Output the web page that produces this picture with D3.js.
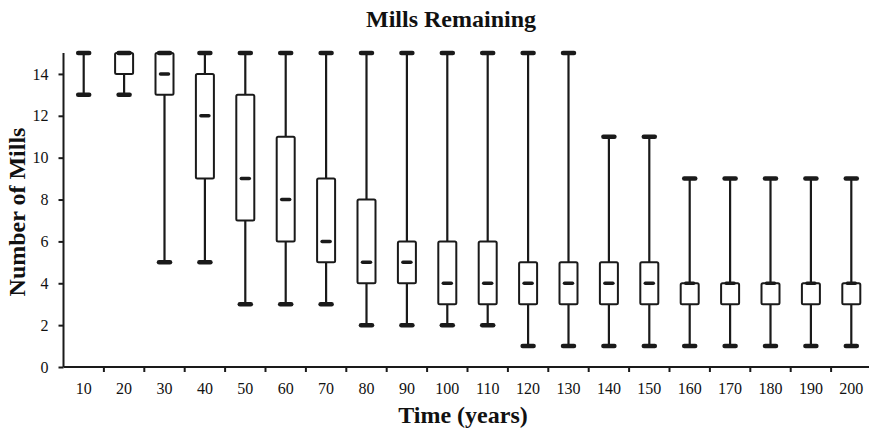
<!DOCTYPE html>
<html>
<head>
<meta charset="utf-8">
<script src="https://cdn.jsdelivr.net/npm/d3@7"></script>
<style>
  html, body { margin: 0; padding: 0; background: #fff; }
  svg { display: block; }
  text { font-family: "Liberation Serif", "Times New Roman", serif; fill: #111; }
</style>
</head>
<body>
<svg id="chart" width="869" height="431"></svg>
<script>
// Simulation output: distribution of mills remaining at each time step
const times   = [10, 20, 30, 40, 50, 60, 70, 80, 90, 100, 110, 120, 130, 140, 150, 160, 170, 180, 190, 200];
const minVals = [13, 13, 5, 5, 3, 3, 3, 2, 2, 2, 2, 1, 1, 1, 1, 1, 1, 1, 1, 1];
const q1Vals  = [15, 14, 13, 9, 7, 6, 5, 4, 4, 3, 3, 3, 3, 3, 3, 3, 3, 3, 3, 3];
const medVals = [15, 15, 14, 12, 9, 8, 6, 5, 5, 4, 4, 4, 4, 4, 4, 4, 4, 4, 4, 4];
const q3Vals  = [15, 15, 15, 14, 13, 11, 9, 8, 6, 6, 6, 5, 5, 5, 5, 4, 4, 4, 4, 4];
const maxVals = [15, 15, 15, 15, 15, 15, 15, 15, 15, 15, 15, 15, 15, 11, 11, 9, 9, 9, 9, 9];
const yTicks  = [0, 2, 4, 6, 8, 10, 12, 14];

const data = times.map((t, i) => ({
  t, min: minVals[i], q1: q1Vals[i], med: medVals[i], q3: q3Vals[i], max: maxVals[i]
}));

const svg = d3.select("#chart");
const plotLeft = 63.5, plotRight = 871.5, plotTop = 53, plotBottom = 367;
const ink = "#1a1a1a";

const x = d3.scaleBand().domain(times).range([plotLeft, plotRight]);
const y = d3.scaleLinear().domain([0, 15]).range([plotBottom, plotTop]);

// Title
svg.append("text")
  .attr("x", 451).attr("y", 27)
  .attr("text-anchor", "middle")
  .style("font-size", "24px").style("font-weight", "bold")
  .text("Mills Remaining");

// Y axis
const yAxis = svg.append("g")
  .attr("transform", `translate(${plotLeft},0)`)
  .call(d3.axisLeft(y).tickValues(yTicks).tickSize(5).tickPadding(10).tickFormat(d3.format("d")));
yAxis.select(".domain").attr("stroke", ink).attr("stroke-width", 2)
  .attr("d", `M0,${plotBottom}V${plotTop}`);
yAxis.selectAll(".tick line").attr("stroke", ink).attr("stroke-width", 2);
yAxis.selectAll(".tick text").style("font-size", "16px")
  .style("font-family", "'Liberation Serif', serif").attr("fill", ink);

// X axis with ticks at category boundaries
const xAxis = svg.append("g")
  .attr("transform", `translate(0,${plotBottom})`)
  .call(d3.axisBottom(x).tickSize(0).tickPadding(16));
xAxis.select(".domain").attr("stroke", ink).attr("stroke-width", 2)
  .attr("d", `M${plotLeft},0H869`);
xAxis.selectAll(".tick text").style("font-size", "16px")
  .style("font-family", "'Liberation Serif', serif").attr("fill", ink);
xAxis.selectAll("line.sep")
  .data(times.slice(1))
  .join("line")
  .attr("class", "sep")
  .attr("x1", d => x(d)).attr("x2", d => x(d))
  .attr("y1", 0).attr("y2", 5)
  .attr("stroke", ink).attr("stroke-width", 2);

// Axis titles
svg.append("text")
  .attr("x", 463).attr("y", 423)
  .attr("text-anchor", "middle")
  .style("font-size", "24px").style("font-weight", "bold")
  .text("Time (years)");

svg.append("text")
  .attr("transform", `translate(25,${(plotTop + plotBottom) / 2 + 2}) rotate(-90)`)
  .attr("text-anchor", "middle")
  .style("font-size", "24px").style("font-weight", "bold")
  .text("Number of Mills");

// Box plots
const bw = 18, capW = 13, medW = 10;
const g = svg.append("g").selectAll("g.box").data(data).join("g")
  .attr("class", "box")
  .attr("transform", d => `translate(${x(d.t) + x.bandwidth() / 2},0)`);

g.append("line")
  .attr("x1", 0).attr("x2", 0)
  .attr("y1", d => y(d.min)).attr("y2", d => y(d.max))
  .attr("stroke", ink).attr("stroke-width", 2.2);

g.filter(d => d.q3 > d.q1).append("rect")
  .attr("x", -bw / 2).attr("width", bw)
  .attr("y", d => y(d.q3)).attr("height", d => y(d.q1) - y(d.q3))
  .attr("rx", 1.5)
  .attr("fill", "#fff").attr("stroke", ink).attr("stroke-width", 2);

// Whisker caps
g.selectAll("line.cap")
  .data(d => [d.min, d.max])
  .join("line")
  .attr("class", "cap")
  .attr("x1", -capW / 2 + 1).attr("x2", capW / 2 - 1)
  .attr("y1", v => y(v)).attr("y2", v => y(v))
  .attr("stroke", ink).attr("stroke-width", 4.5).attr("stroke-linecap", "round");

// Median marks
g.append("line")
  .attr("x1", -medW / 2 + 1).attr("x2", medW / 2 - 1)
  .attr("y1", d => y(d.med)).attr("y2", d => y(d.med))
  .attr("stroke", ink).attr("stroke-width", 3.5).attr("stroke-linecap", "round");
</script>
</body>
</html>
